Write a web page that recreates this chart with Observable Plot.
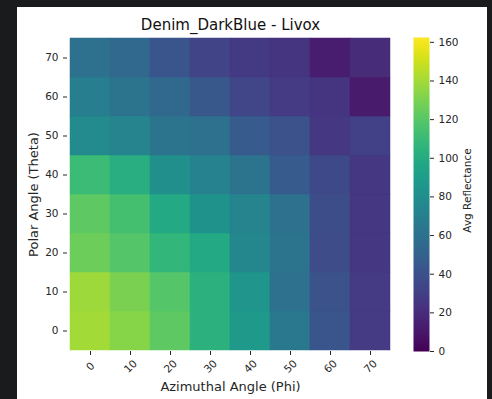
<!DOCTYPE html>
<html>
<head>
<meta charset="utf-8">
<script src="https://cdn.jsdelivr.net/npm/d3@7"></script>
<script src="https://cdn.jsdelivr.net/npm/@observablehq/plot@0.6"></script>
<style>
  html, body { margin: 0; padding: 0; background: #1a1b1d; }
  #wrap { position: relative; width: 492px; height: 399px; overflow: hidden; }
  #panel { position: absolute; left: 17px; top: 7px; width: 470px; height: 392px; background: #ffffff; }
  #main, #cbar { position: absolute; top: 0; }
  #main { left: 0; }
  #cbar { left: 390px; }
  svg { overflow: visible; }
</style>
</head>
<body>
<div id="wrap">
  <div id="panel"></div>
  <div id="main"></div>
  <div id="cbar"></div>
</div>
<script>
const titleText = "Denim_DarkBlue - Livox";
const xLabel = "Azimuthal Angle (Phi)";
const yLabel = "Polar Angle (Theta)";
const cbLabel = "Avg Reflectance";
const phi = [0, 10, 20, 30, 40, 50, 60, 70];
const theta = [0, 10, 20, 30, 40, 50, 60, 70];
// rows: theta 0 .. 70 ; columns: phi 0 .. 70
const theta0  = [140, 133, 122, 104, 87, 65, 42, 28];
const theta10 = [139, 130, 119, 104, 85, 60, 41, 28];
const theta20 = [126, 119, 107, 98, 75, 62, 37, 26];
const theta30 = [122, 114, 98, 83, 73, 60, 38, 26];
const theta40 = [111, 102, 81, 72, 62, 46, 36, 26];
const theta50 = [77, 73, 62, 60, 46, 41, 26, 31];
const theta60 = [69, 62, 54, 44, 34, 28, 25, 12];
const theta70 = [60, 54, 42, 33, 27, 25, 13, 20];
const colorDomain = [0, 162.5];
const cbTicks = [0, 20, 40, 60, 80, 100, 120, 140, 160];

const rows = [theta0, theta10, theta20, theta30, theta40, theta50, theta60, theta70];
const table = [];
rows.forEach((r, i) => r.forEach((v, j) => table.push({theta: theta[i], phi: phi[j], value: v})));

const font = "DejaVu Sans, sans-serif";
const ink = "#262626";

const main = Plot.plot({
  width: 492, height: 399,
  marginLeft: 67, marginRight: 99, marginTop: 37, marginBottom: 48,
  style: {background: "transparent", fontFamily: font, fontSize: "10.5px", color: ink},
  x: {type: "band", domain: phi, padding: 0, label: null},
  y: {type: "band", domain: theta.slice().reverse(), padding: 0, label: null},
  color: {type: "linear", scheme: "viridis", domain: colorDomain},
  marks: [
    Plot.cell(table, {x: "phi", y: "theta", fill: "value", stroke: "value", strokeWidth: 0.5, inset: 0}),
    Plot.axisX({tickSize: 4, tickPadding: 11, tickRotate: -45, textAnchor: "middle", lineAnchor: "middle", label: null, stroke: ink}),
    Plot.axisY({tickSize: 4, tickPadding: 5, label: null, stroke: ink}),
    Plot.text([titleText], {frameAnchor: "top", dy: -12, lineAnchor: "middle", fontSize: 15, fill: "#111"}),
    Plot.text([xLabel], {frameAnchor: "bottom", dy: 35, lineAnchor: "middle", fontSize: 13, fill: ink}),
    Plot.text([yLabel], {frameAnchor: "left", dx: -34, rotate: -90, textAnchor: "middle", lineAnchor: "middle", fontSize: 13, fill: ink})
  ]
});
document.getElementById("main").appendChild(main);

const cbar = Plot.plot({
  width: 100, height: 399,
  marginLeft: 23, marginRight: 61, marginTop: 37, marginBottom: 48,
  style: {background: "transparent", fontFamily: font, fontSize: "10.5px", color: ink},
  x: {domain: [0, 1], axis: null},
  y: {domain: colorDomain, label: null},
  color: {type: "linear", scheme: "viridis", domain: colorDomain},
  marks: [
    Plot.raster({x1: 0, x2: 1, y1: colorDomain[0], y2: colorDomain[1], fill: (x, y) => y, width: 4, height: 400, imageRendering: "auto"}),
    Plot.axisY({anchor: "right", ticks: cbTicks, tickSize: 4, tickPadding: 5, label: null, stroke: ink}),
    Plot.text([cbLabel], {frameAnchor: "right", dx: 38, dy: -4, rotate: -90, textAnchor: "middle", lineAnchor: "middle", fontSize: 10.5, fill: ink})
  ]
});
document.getElementById("cbar").appendChild(cbar);
</script>
</body>
</html>
